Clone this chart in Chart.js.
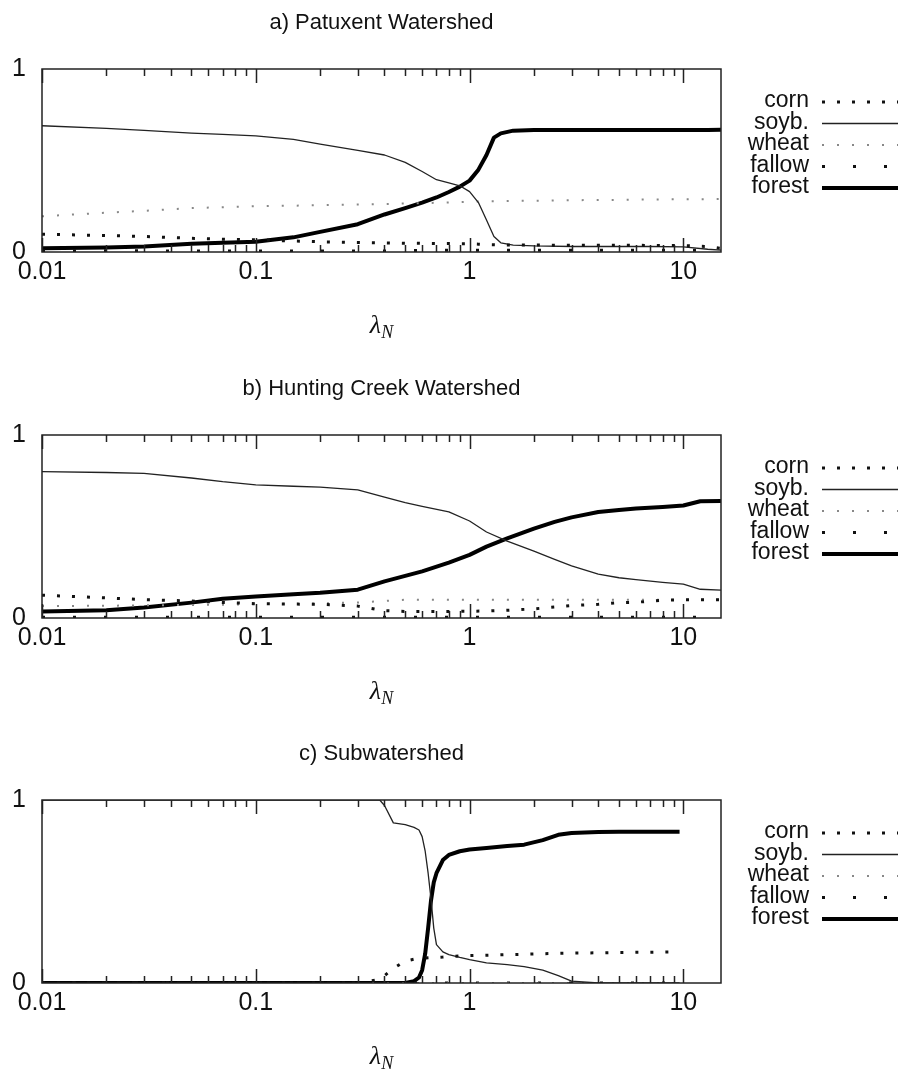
<!DOCTYPE html>
<html>
<head>
<meta charset="utf-8">
<script src="https://cdn.jsdelivr.net/npm/chart.js@4/dist/chart.umd.min.js"></script>
<style>
  html, body { margin: 0; padding: 0; background: #fff; }
  #wrap { position: relative; width: 904px; height: 1071px; }
  canvas { position: absolute; left: 0; }
</style>
</head>
<body>
<div id="wrap">
  <canvas id="panelA" width="904" height="350" style="top:0px"></canvas>
  <canvas id="panelB" width="904" height="350" style="top:366px"></canvas>
  <canvas id="panelC" width="904" height="340" style="top:731px"></canvas>
</div>
<script>
// ---- labels and ticks ----
const seriesNames = ['corn', 'soyb.', 'wheat', 'fallow', 'forest'];
const panelTitles = ['a) Patuxent Watershed', 'b) Hunting Creek Watershed', 'c) Subwatershed'];
const xTickValues = [0.01, 0.1, 1, 10];
const xTickLabels = ['0.01', '0.1', '1', '10'];
const yTickValues = [0, 1];
const yTickLabels = ['0', '1'];

// ---- a) Patuxent Watershed ----
const lambdaA = [0.01, 0.02, 0.03, 0.05, 0.07, 0.1, 0.15, 0.2, 0.3, 0.4, 0.5, 0.6, 0.7, 0.8, 0.9,
                 1.0, 1.1, 1.2, 1.3, 1.4, 1.6, 2, 3, 5, 7, 10, 13, 15];
const cornA   = [0.097, 0.09, 0.085, 0.075, 0.07, 0.067, 0.06, 0.056, 0.052, 0.05, 0.048, 0.047, 0.046, 0.046, 0.045,
                 0.045, 0.043, 0.041, 0.04, 0.039, 0.038, 0.038, 0.037, 0.037, 0.036, 0.035, 0.03, 0.02];
const soybA   = [0.69, 0.675, 0.665, 0.65, 0.643, 0.635, 0.615, 0.59, 0.555, 0.53, 0.49, 0.44, 0.395, 0.378, 0.362,
                 0.33, 0.27, 0.175, 0.085, 0.05, 0.038, 0.033, 0.03, 0.03, 0.03, 0.028, 0.015, 0.01];
const wheatA  = [0.195, 0.215, 0.225, 0.24, 0.245, 0.25, 0.253, 0.256, 0.26, 0.262, 0.265, 0.267, 0.269, 0.271, 0.273,
                 0.275, 0.276, 0.277, 0.277, 0.278, 0.279, 0.28, 0.283, 0.285, 0.287, 0.288, 0.289, 0.29];
const fallowA = [0.007, 0.007, 0.006, 0.006, 0.006, 0.006, 0.006, 0.006, 0.006, 0.006, 0.007, 0.008, 0.009, 0.01, 0.01,
                 0.01, 0.01, 0.01, 0.01, 0.01, 0.01, 0.01, 0.01, 0.01, 0.01, 0.01, 0.008, 0.006];
const forestA = [0.02, 0.025, 0.03, 0.045, 0.05, 0.056, 0.08, 0.11, 0.152, 0.205, 0.24, 0.27, 0.298, 0.328, 0.357,
                 0.39, 0.45, 0.53, 0.625, 0.648, 0.663, 0.667, 0.667, 0.667, 0.667, 0.667, 0.667, 0.668];

// ---- b) Hunting Creek Watershed ----
const lambdaB = [0.01, 0.02, 0.03, 0.05, 0.07, 0.1, 0.15, 0.2, 0.3, 0.4, 0.5, 0.6, 0.8, 1.0, 1.2,
                 1.5, 2, 2.5, 3, 4, 5, 6, 8, 10, 12, 15];
const cornB   = [0.125, 0.11, 0.1, 0.093, 0.085, 0.078, 0.076, 0.075, 0.065, 0.04, 0.036, 0.036, 0.036, 0.037, 0.038,
                 0.042, 0.05, 0.06, 0.068, 0.075, 0.084, 0.086, 0.097, 0.1, 0.1, 0.1];
const soybB   = [0.80, 0.795, 0.79, 0.765, 0.745, 0.728, 0.72, 0.715, 0.70, 0.66, 0.63, 0.61, 0.58, 0.53, 0.47,
                 0.42, 0.365, 0.32, 0.285, 0.24, 0.22, 0.21, 0.195, 0.185, 0.157, 0.152];
const wheatB  = [0.065, 0.067, 0.069, 0.071, 0.073, 0.075, 0.078, 0.08, 0.085, 0.093, 0.1, 0.1, 0.1, 0.1, 0.1,
                 0.1, 0.1, 0.1, 0.1, 0.1, 0.1, 0.1, 0.1, 0.1, 0.1, 0.1];
const fallowB = [0.004, 0.004, 0.004, 0.004, 0.004, 0.004, 0.004, 0.004, 0.004, 0.004, 0.004, 0.004, 0.004, 0.004, 0.004,
                 0.004, 0.004, 0.004, 0.004, 0.004, 0.004, 0.004, 0.004, 0.004, 0.004, 0.004];
const forestB = [0.035, 0.043, 0.057, 0.084, 0.105, 0.118, 0.13, 0.138, 0.155, 0.2, 0.23, 0.255, 0.303, 0.345, 0.39,
                 0.435, 0.488, 0.525, 0.55, 0.579, 0.59, 0.598, 0.607, 0.615, 0.638, 0.64];

// ---- c) Subwatershed ----
const lambdaC = [0.01, 0.1, 0.2, 0.3, 0.38, 0.4, 0.44, 0.5, 0.55, 0.58, 0.6, 0.62, 0.64, 0.66, 0.68,
                 0.7, 0.75, 0.8, 0.9, 1.0, 1.2, 1.5, 1.8, 2.2, 2.6, 3, 4, 5, 7, 9.6];
const cornC   = [0, 0, 0, 0, 0.02, 0.04, 0.08, 0.12, 0.13, 0.133, 0.135, 0.137, 0.138, 0.139, 0.14,
                 0.14, 0.142, 0.145, 0.148, 0.15, 0.152, 0.155, 0.157, 0.16, 0.162, 0.163, 0.165, 0.167, 0.168, 0.17];
const soybC   = [1, 1, 1, 1, 1, 0.97, 0.875, 0.865, 0.85, 0.836, 0.8, 0.72, 0.6, 0.46, 0.3,
                 0.21, 0.17, 0.155, 0.14, 0.128, 0.11, 0.1, 0.09, 0.07, 0.04, 0.01, 0, 0, 0, 0];
const wheatC  = [0, 0, 0, 0, 0, 0, 0, 0, 0, 0, 0, 0, 0, 0, 0,
                 0, 0, 0, 0, 0, 0, 0, 0, 0, 0, 0, 0, 0, 0, 0];
const fallowC = [0, 0, 0, 0, 0, 0, 0, 0, 0, 0, 0, 0, 0, 0, 0,
                 0, 0, 0, 0, 0, 0, 0, 0, 0, 0, 0, 0, 0, 0, 0];
const forestC = [0, 0, 0, 0, 0, 0, 0, 0, 0.01, 0.03, 0.07, 0.16, 0.3, 0.45, 0.55,
                 0.6, 0.672, 0.7, 0.72, 0.73, 0.738, 0.748, 0.756, 0.781, 0.81, 0.82, 0.825, 0.827, 0.827, 0.827];

// ---- drawing styles ----
const SANS = '"Liberation Sans", Arial, Helvetica, sans-serif';
const SERIF = '"Liberation Serif", "Times New Roman", serif';
const lineStyles = [
  { color: '#111', width: 3,   dash: [3, 12] },  // corn
  { color: '#222', width: 1.3, dash: [] },       // soyb.
  { color: '#888', width: 2,   dash: [2, 13] },  // wheat
  { color: '#111', width: 3,   dash: [3, 28] },  // fallow
  { color: '#000', width: 4,   dash: [] }        // forest
];

// frame, log ticks, title, legend and axis label
const panelDecor = {
  id: 'panelDecor',
  afterDatasetsDraw(chart) {
    const { ctx, chartArea: a, scales: { x } } = chart;
    ctx.save();
    ctx.strokeStyle = '#222';
    ctx.lineWidth = 1.5;
    ctx.setLineDash([]);
    ctx.strokeRect(a.left, a.top, a.right - a.left, a.bottom - a.top);
    for (let e = -2; e <= 1; e++) {
      for (let m = 1; m <= 9; m++) {
        const v = m * Math.pow(10, e);
        if (v < x.min || v > x.max) continue;
        const px = Math.round(x.getPixelForValue(v)) + 0.5;
        const len = m === 1 ? 14 : 7;
        ctx.beginPath();
        ctx.moveTo(px, a.bottom); ctx.lineTo(px, a.bottom - len);
        ctx.moveTo(px, a.top);    ctx.lineTo(px, a.top + len);
        ctx.stroke();
      }
    }
    ctx.restore();
  },
  afterDraw(chart, args, opts) {
    const { ctx, chartArea: a } = chart;
    const cx = (a.left + a.right) / 2;
    ctx.save();
    ctx.fillStyle = '#111';
    // panel title
    ctx.font = `22px ${SANS}`;
    ctx.textAlign = 'center';
    ctx.textBaseline = 'alphabetic';
    ctx.fillText(opts.title, cx, a.top - 40);
    // x axis label: lambda with subscript N
    ctx.font = `italic 26px ${SERIF}`;
    const wl = ctx.measureText('λ').width;
    ctx.font = `italic 18px ${SERIF}`;
    const wn = ctx.measureText('N').width;
    const x0 = cx - (wl + wn) / 2;
    const yb = a.bottom + 81;
    ctx.textAlign = 'left';
    ctx.font = `italic 26px ${SERIF}`;
    ctx.fillText('λ', x0, yb);
    ctx.font = `italic 18px ${SERIF}`;
    ctx.fillText('N', x0 + wl, yb + 5);
    // legend: label, then line sample
    chart.data.datasets.forEach((ds, i) => {
      const y = a.top + 32 + i * 21.5;
      ctx.font = `23px ${SANS}`;
      ctx.textAlign = 'right';
      ctx.textBaseline = 'middle';
      ctx.fillStyle = '#111';
      ctx.fillText(ds.label, 809, y);
      ctx.beginPath();
      ctx.setLineDash(ds.borderDash);
      ctx.lineCap = 'butt';
      ctx.lineWidth = ds.borderWidth;
      ctx.strokeStyle = ds.borderColor;
      ctx.moveTo(822, y + 1);
      ctx.lineTo(898, y + 1);
      ctx.stroke();
    });
    ctx.restore();
  }
};

function makePanel(id, title, lambda, seriesValues, height) {
  const canvas = document.getElementById(id);
  return new Chart(canvas, {
    type: 'line',
    data: {
      datasets: seriesNames.map((name, i) => ({
        label: name,
        data: lambda.map((l, j) => ({ x: l, y: seriesValues[i][j] })),
        borderColor: lineStyles[i].color,
        borderWidth: lineStyles[i].width,
        borderDash: lineStyles[i].dash,
        borderCapStyle: 'butt',
        borderJoinStyle: 'round',
        pointRadius: 0,
        tension: 0,
        fill: false
      }))
    },
    options: {
      responsive: false,
      animation: false,
      devicePixelRatio: 1,
      layout: { padding: { top: 69, right: 183, bottom: height - 252 - 40, left: 0 } },
      plugins: {
        legend: { display: false },
        tooltip: { enabled: false },
        title: { display: false },
        panelDecor: { title }
      },
      scales: {
        x: {
          type: 'logarithmic',
          min: 0.01,
          max: 15,
          grid: { display: false, drawTicks: false },
          border: { display: false },
          afterBuildTicks: s => { s.ticks = xTickValues.map(v => ({ value: v })); },
          afterFit: s => { s.height = 40; },
          ticks: {
            autoSkip: false, maxRotation: 0, padding: 5, color: '#111',
            font: { family: SANS, size: 25 },
            callback: (v, i) => xTickLabels[i]
          }
        },
        y: {
          type: 'linear',
          min: 0,
          max: 1,
          grid: { display: false, drawTicks: false },
          border: { display: false },
          afterBuildTicks: s => { s.ticks = yTickValues.map(v => ({ value: v })); },
          afterFit: s => { s.width = 42; },
          ticks: {
            padding: 16, color: '#111',
            font: { family: SANS, size: 25 },
            callback: (v, i) => yTickLabels[i]
          }
        }
      }
    },
    plugins: [panelDecor]
  });
}

makePanel('panelA', panelTitles[0], lambdaA, [cornA, soybA, wheatA, fallowA, forestA], 350);
makePanel('panelB', panelTitles[1], lambdaB, [cornB, soybB, wheatB, fallowB, forestB], 350);
makePanel('panelC', panelTitles[2], lambdaC, [cornC, soybC, wheatC, fallowC, forestC], 340);
</script>
</body>
</html>
